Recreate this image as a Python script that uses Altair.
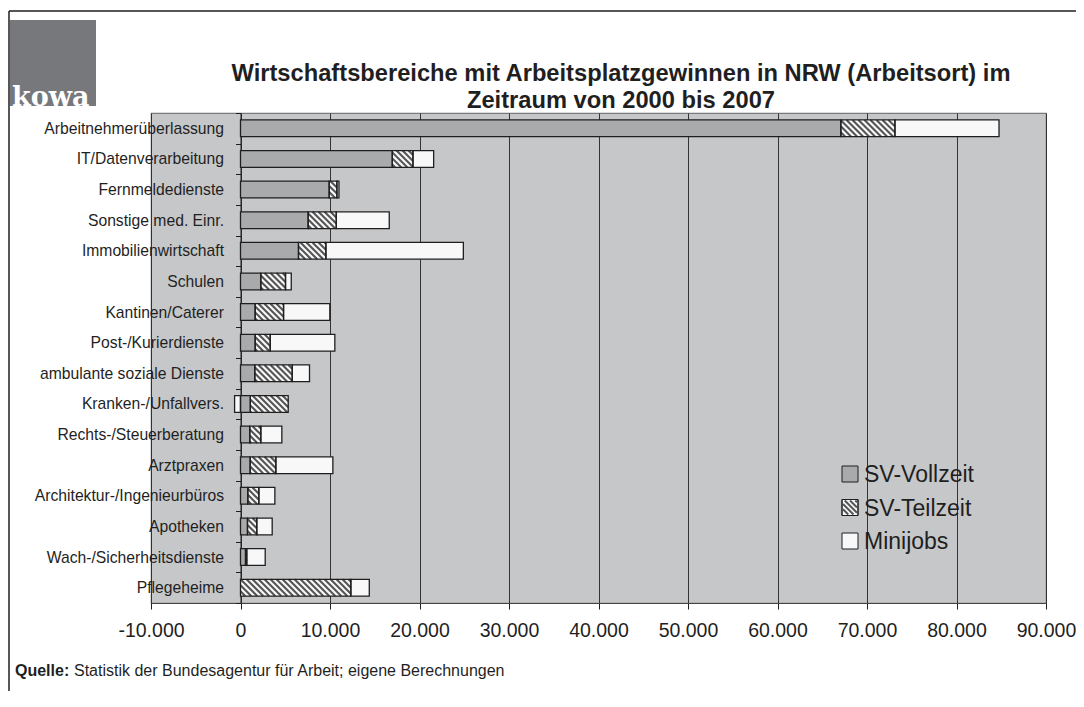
import json
import altair as alt
import numpy as np
import pandas as pd

# ---------------- data ----------------
categories = [
    "Arbeitnehmerüberlassung", "IT/Datenverarbeitung", "Fernmeldedienste",
    "Sonstige med. Einr.", "Immobilienwirtschaft", "Schulen", "Kantinen/Caterer",
    "Post-/Kurierdienste", "ambulante soziale Dienste", "Kranken-/Unfallvers.",
    "Rechts-/Steuerberatung", "Arztpraxen", "Architektur-/Ingenieurbüros",
    "Apotheken", "Wach-/Sicherheitsdienste", "Pflegeheime",
]
sv_vollzeit = [67080, 16960, 9910, 7560, 6480, 2270, 1640, 1640, 1600, 1100, 1040, 1080, 820, 780, 560, 0]
sv_teilzeit = [6040, 2310, 860, 3140, 3060, 2760, 3170, 1680, 4180, 4230, 1230, 2870, 1230, 1040, 140, 12330]
minijobs = [11630, 2310, 230, 5920, 15360, 640, 5170, 7220, 1930, -660, 2350, 6370, 1790, 1720, 2060, 2060]
series_names = ["SV-Vollzeit", "SV-Teilzeit", "Minijobs"]
x_ticks = [-10000, 0, 10000, 20000, 30000, 40000, 50000, 60000, 70000, 80000, 90000]
x_tick_labels = ["-10.000", "0", "10.000", "20.000", "30.000", "40.000",
                 "50.000", "60.000", "70.000", "80.000", "90.000"]
title_lines = ["Wirtschaftsbereiche mit Arbeitsplatzgewinnen in NRW (Arbeitsort) im",
               "Zeitraum von 2000 bis 2007"]
source_bold = "Quelle:"
source_text = "Statistik der Bundesagentur für Arbeit; eigene Berechnungen"
logo_text = "kowa"

# ---------------- layout / style ----------------
W, H = 895, 490
X_MIN, X_MAX = -10000, 90000
PX_PER_UNIT = W / (X_MAX - X_MIN)
N = len(categories)
ROW_PX = H / N
HALF = 0.273                       # half bar thickness in row units
FONT = "Liberation Sans"
DARK = "#1f1f1f"
HATCH = "#555555"
FILLS = ["#a9aaac", "#f8f8f8", "#f8f8f8"]

# ---------------- stacked segments ----------------
rows = []
for i, cat in enumerate(categories):
    pos, neg = 0.0, 0.0
    for s, v in zip(series_names, [sv_vollzeit[i], sv_teilzeit[i], minijobs[i]]):
        if v == 0:
            continue
        if v > 0:
            a, b = pos, pos + v
            pos = b
        else:
            a, b = neg + v, neg
            neg = a
        rows.append(dict(cat=cat, series=s, start=a, end=b, top=i - HALF, bot=i + HALF))
seg = pd.DataFrame(rows)

# hatch lines for SV-Teilzeit segments ("\" diagonals)
bar_px = 2 * HALF * ROW_PX
D = bar_px / PX_PER_UNIT           # horizontal run of a 45 degree line across the bar
P = 6.0 / PX_PER_UNIT              # stripe period
hl = []
for _, r in seg[seg.series == "SV-Teilzeit"].iterrows():
    a0, a1 = r.start, r.end
    k0 = int(np.floor((a0 - D) / P))
    k1 = int(np.ceil(a1 / P))
    for k in range(k0, k1 + 1):
        s = k * P
        t0 = max(0.0, (a0 - s) / D)
        t1 = min(1.0, (a1 - s) / D)
        if t1 - t0 <= 1e-6:
            continue
        hl.append(dict(x=s + t0 * D, x2=s + t1 * D,
                       y=r.top + t0 * (r.bot - r.top), y2=r.top + t1 * (r.bot - r.top)))
hatch = pd.DataFrame(hl)

# ---------------- scales / axes ----------------
x_scale = alt.Scale(domain=[X_MIN, X_MAX], nice=False, zero=False)
y_scale = alt.Scale(domain=[-0.5, N - 0.5], reverse=True, nice=False, zero=False)

x_label_expr = json.dumps(x_tick_labels, ensure_ascii=False) + \
    f"[round((datum.value - ({X_MIN})) / 10000)]"
y_label_expr = "(" + json.dumps(categories, ensure_ascii=False) + \
    "[round(datum.value + 0.5)]) || ''"

x_axis = alt.Axis(values=x_ticks, labelExpr=x_label_expr, grid=True, gridColor="#333333",
                  gridWidth=1, tickSize=6, tickColor=DARK, domainColor="#444444",
                  labelFontSize=19.5, labelColor=DARK, labelPadding=12, labelFlush=False,
                  labelOverlap=False, title=None, labelFont=FONT, tickCount=100)
y_axis = alt.Axis(values=[k - 0.5 for k in range(N + 1)], labelExpr=y_label_expr,
                  labelOffset=ROW_PX / 2, tickSize=5, tickColor=DARK, domainColor=DARK,
                  labelPadding=12, labelFontSize=15.7, labelColor=DARK, grid=False,
                  title=None, offset=-(0 - X_MIN) * PX_PER_UNIT, labelOverlap=False,
                  labelLimit=400, labelFont=FONT, tickCount=100)

base = alt.Chart(seg)
bars = base.mark_rect(strokeWidth=0).encode(
    x=alt.X("start:Q", scale=x_scale, axis=x_axis),
    x2="end:Q",
    y=alt.Y("top:Q", scale=y_scale, axis=y_axis),
    y2="bot:Q",
    fill=alt.Fill("series:N", scale=alt.Scale(domain=series_names, range=FILLS), legend=None),
)
hatch_layer = alt.Chart(hatch).mark_rule(color=HATCH, strokeWidth=2.1).encode(
    x="x:Q", x2="x2:Q", y="y:Q", y2="y2:Q")
outlines = base.mark_rect(fillOpacity=0, stroke=DARK, strokeWidth=1.3).encode(
    x="start:Q", x2="end:Q", y="top:Q", y2="bot:Q")

# ---------------- manual legend ----------------
def hatch_path(period=0.75):
    parts = []
    s = -3.0
    while s <= 1.0:
        t0 = max(0.0, (-1 - s) / 2)
        t1 = min(1.0, (1 - s) / 2)
        if t1 > t0:
            parts.append(f"M{s + 2*t0:.3f},{-1 + 2*t0:.3f}L{s + 2*t1:.3f},{-1 + 2*t1:.3f}")
        s += period
    return "".join(parts)

legend_layers = []
LEG_X, LEG_Y0, LEG_DY, BOX = 699, 361, 33.5, 16
for j, name in enumerate(series_names):
    yy = LEG_Y0 + j * LEG_DY
    d = alt.Chart(pd.DataFrame({"label": [name]}))
    legend_layers.append(d.mark_point(shape="square", filled=True, fill=FILLS[j],
                                      stroke=DARK, strokeWidth=1, size=BOX * BOX, opacity=1)
                         .encode(x=alt.value(LEG_X), y=alt.value(yy)))
    if name == "SV-Teilzeit":
        legend_layers.append(d.mark_point(shape=hatch_path(), filled=False, stroke=HATCH,
                                          strokeWidth=2, size=(BOX - 2) ** 2, opacity=1)
                             .encode(x=alt.value(LEG_X), y=alt.value(yy)))
        legend_layers.append(d.mark_point(shape="square", filled=False, stroke=DARK,
                                          strokeWidth=1, size=BOX * BOX, opacity=1)
                             .encode(x=alt.value(LEG_X), y=alt.value(yy)))
    legend_layers.append(d.mark_text(align="left", baseline="middle", fontSize=23,
                                     font=FONT, color=DARK)
                         .encode(x=alt.value(LEG_X + 14), y=alt.value(yy + 1),
                                 text="label:N"))

# ---------------- title, logo, frame, source ----------------
title_layers = []
for j, line in enumerate(title_lines):
    title_layers.append(
        alt.Chart(pd.DataFrame({"t": [line]})).mark_text(
            align="center", baseline="alphabetic", fontSize=23.7, fontWeight="bold",
            font=FONT, color=DARK).encode(
            x=alt.value(470), y=alt.value(-32 + 27 * j), text="t:N"))

one = alt.Chart(pd.DataFrame({"t": [logo_text]}))
logo_box = one.mark_rect(color="#77787c").encode(
    x=alt.value(-141), x2=alt.value(-55), y=alt.value(-93), y2=alt.value(-7))
logo_txt = one.mark_text(align="left", baseline="alphabetic", font="DejaVu Serif",
                         fontSize=27, fontWeight="bold", color="white").encode(
    x=alt.value(-139), y=alt.value(-7.5), text="t:N")
frame_v = one.mark_rule(color=DARK, strokeWidth=1.5).encode(
    x=alt.value(-142), y=alt.value(-102), y2=alt.value(700))
frame_h = one.mark_rule(color=DARK, strokeWidth=1.5).encode(
    x=alt.value(-142), x2=alt.value(1000), y=alt.value(-102))
src_df = alt.Chart(pd.DataFrame({"b": [source_bold], "t": [source_text]}))
src_b = src_df.mark_text(align="left", baseline="alphabetic", fontSize=16, font=FONT,
                         fontWeight="bold", color=DARK).encode(
    x=alt.value(-136), y=alt.value(563), text="b:N")
src_t = src_df.mark_text(align="left", baseline="alphabetic", fontSize=16, font=FONT,
                         color=DARK).encode(
    x=alt.value(-136 + 59), y=alt.value(563), text="t:N")

chart = alt.layer(
    bars, hatch_layer, outlines, *legend_layers, *title_layers,
    logo_box, logo_txt, frame_v, frame_h, src_b, src_t,
).properties(
    width=W, height=H,
    autosize=alt.AutoSizeParams(type="none"),
    padding={"left": 143, "top": 105, "right": 30, "bottom": 88},
    background="white",
).configure(font=FONT
).configure_view(fill="#c6c7c9", stroke="#7a7a7a", strokeWidth=1.2
).configure_axisY(labelOverlap=False, labelLimit=400
).configure_axisX(labelOverlap=False)

chart.save("out.html", embed_options={"renderer": "svg", "actions": False})
